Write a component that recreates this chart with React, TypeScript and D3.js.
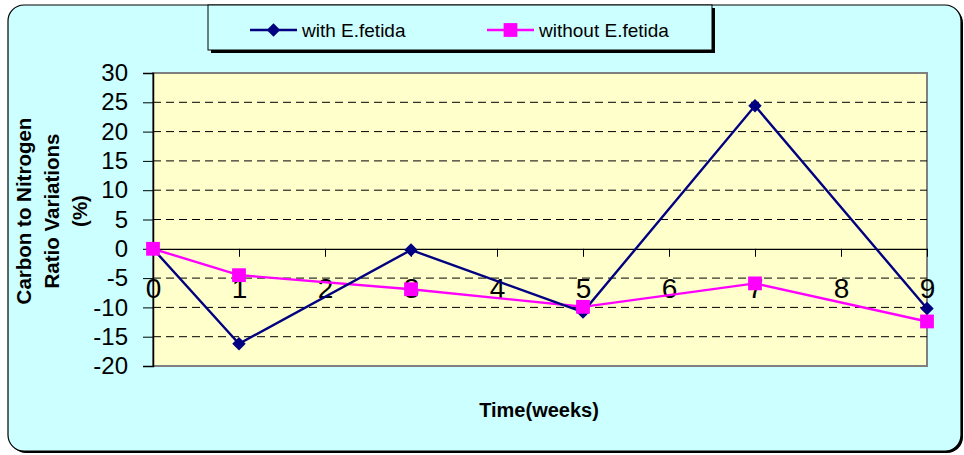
import React, { useEffect, useRef } from "react";
import * as d3 from "d3";

const weeks = [0, 1, 2, 3, 4, 5, 6, 7, 8, 9];
const sampleWeeks = [0, 1, 3, 5, 7, 9];
const withFetida = [0, -16.2, -0.2, -10.8, 24.4, -10.2];
const withoutFetida = [0, -4.5, -6.9, -9.9, -5.9, -12.4];
const yTicks = [-20, -15, -10, -5, 0, 5, 10, 15, 20, 25, 30];

const App = () => {
  const svgRef = useRef<SVGSVGElement>(null);

  useEffect(() => {
    const svg = d3.select(svgRef.current);
    svg.selectAll("*").remove();

    const plot = { left: 153, right: 927, top: 73, bottom: 366 };
    const font = "Arial, 'Liberation Sans', sans-serif";

    // Outer chart box with shadow
    svg
      .append("rect")
      .attr("x", 10)
      .attr("y", 7)
      .attr("width", 953)
      .attr("height", 446)
      .attr("rx", 16)
      .attr("fill", "#000");
    svg
      .append("rect")
      .attr("x", 8)
      .attr("y", 5)
      .attr("width", 953)
      .attr("height", 446)
      .attr("rx", 16)
      .attr("fill", "#CCFFFF")
      .attr("stroke", "#000")
      .attr("stroke-width", 1.2);

    const x = d3
      .scaleLinear()
      .domain([0, 9])
      .range([plot.left, plot.right]);

    const y = d3
      .scaleLinear()
      .domain([-20, 30])
      .range([plot.bottom, plot.top]);

    // Plot area
    svg
      .append("rect")
      .attr("x", plot.left)
      .attr("y", plot.top)
      .attr("width", plot.right - plot.left)
      .attr("height", plot.bottom - plot.top)
      .attr("fill", "#FFFFCC")
      .attr("stroke", "#808080")
      .attr("stroke-width", 2);

    // Dashed gridlines
    svg
      .append("g")
      .selectAll("line")
      .data(yTicks.filter((d) => d !== 0 && d !== -20 && d !== 30))
      .enter()
      .append("line")
      .attr("x1", plot.left)
      .attr("x2", plot.right)
      .attr("y1", (d) => y(d))
      .attr("y2", (d) => y(d))
      .attr("stroke", "#000")
      .attr("stroke-width", 1)
      .attr("stroke-dasharray", "8,5");

    // Y axis
    const yAxis = svg
      .append("g")
      .attr("transform", `translate(${plot.left},0)`)
      .call(
        d3
          .axisLeft(y)
          .tickValues(yTicks)
          .tickSize(10)
          .tickPadding(15)
          .tickFormat((d) => String(d))
      );
    yAxis.select(".domain").attr("stroke", "#000").attr("stroke-width", 1.5);
    yAxis
      .selectAll("text")
      .attr("font-family", font)
      .attr("font-size", 24)
      .attr("fill", "#000");

    // X axis at zero
    const xAxis = svg
      .append("g")
      .attr("transform", `translate(0,${y(0)})`)
      .call(
        d3
          .axisBottom(x)
          .tickValues(weeks)
          .tickSize(8)
          .tickSizeOuter(0)
          .tickPadding(21)
          .tickFormat((d) => String(d))
      );
    xAxis.select(".domain").attr("stroke", "#000").attr("stroke-width", 1.2);
    xAxis
      .selectAll("text")
      .attr("font-family", font)
      .attr("font-size", 28)
      .attr("fill", "#000");

    const line = d3
      .line<number>()
      .x((d, i) => x(sampleWeeks[i]))
      .y((d) => y(d));

    // without E.fetida
    svg
      .append("path")
      .datum(withoutFetida)
      .attr("d", line)
      .attr("fill", "none")
      .attr("stroke", "#FF00FF")
      .attr("stroke-width", 2.4);

    // with E.fetida
    svg
      .append("path")
      .datum(withFetida)
      .attr("d", line)
      .attr("fill", "none")
      .attr("stroke", "#000080")
      .attr("stroke-width", 2.4);

    const diamond = d3.symbol().type(d3.symbolDiamond2).size(115);
    const square = d3.symbol().type(d3.symbolSquare).size(190);

    svg
      .append("g")
      .selectAll("path")
      .data(withFetida)
      .enter()
      .append("path")
      .attr("d", diamond)
      .attr("transform", (d, i) => `translate(${x(sampleWeeks[i])},${y(d)})`)
      .attr("fill", "#000080");

    svg
      .append("g")
      .selectAll("path")
      .data(withoutFetida)
      .enter()
      .append("path")
      .attr("d", square)
      .attr("transform", (d, i) => `translate(${x(sampleWeeks[i])},${y(d)})`)
      .attr("fill", "#FF00FF");

    // Axis titles
    svg
      .append("text")
      .attr("x", 539)
      .attr("y", 417)
      .attr("text-anchor", "middle")
      .attr("font-family", font)
      .attr("font-weight", "bold")
      .attr("font-size", 20)
      .text("Time(weeks)");

    const yTitle = svg
      .append("text")
      .attr("transform", "translate(0,211) rotate(-90)")
      .attr("text-anchor", "middle")
      .attr("font-family", font)
      .attr("font-weight", "bold")
      .attr("font-size", 20.5);
    ["Carbon to Nitrogen", "Ratio Variations", "(%)"].forEach((t, i) => {
      yTitle
        .append("tspan")
        .attr("x", 0)
        .attr("y", 31 + i * 28)
        .text(t);
    });

    // Legend
    const legend = svg.append("g");
    legend
      .append("rect")
      .attr("x", 211)
      .attr("y", 8)
      .attr("width", 504)
      .attr("height", 45)
      .attr("fill", "#000");
    legend
      .append("rect")
      .attr("x", 208)
      .attr("y", 5)
      .attr("width", 504)
      .attr("height", 45)
      .attr("fill", "#CCFFFF")
      .attr("stroke", "#000")
      .attr("stroke-width", 1);

    const items = [
      { label: "with E.fetida", color: "#000080", sym: diamond, x0: 250 },
      { label: "without E.fetida", color: "#FF00FF", sym: square, x0: 487 },
    ];
    items.forEach((it) => {
      legend
        .append("line")
        .attr("x1", it.x0)
        .attr("x2", it.x0 + 47)
        .attr("y1", 30)
        .attr("y2", 30)
        .attr("stroke", it.color)
        .attr("stroke-width", 2.6);
      legend
        .append("path")
        .attr("d", it.sym)
        .attr("transform", `translate(${it.x0 + 23.5},30)`)
        .attr("fill", it.color);
      legend
        .append("text")
        .attr("x", it.x0 + 52)
        .attr("y", 37)
        .attr("font-family", font)
        .attr("font-size", 19)
        .text(it.label);
    });
  }, []);

  return (
    <svg
      ref={svgRef}
      width={964}
      height={455}
      style={{ position: "absolute", left: 0, top: 0 }}
    ></svg>
  );
};

export default App;
